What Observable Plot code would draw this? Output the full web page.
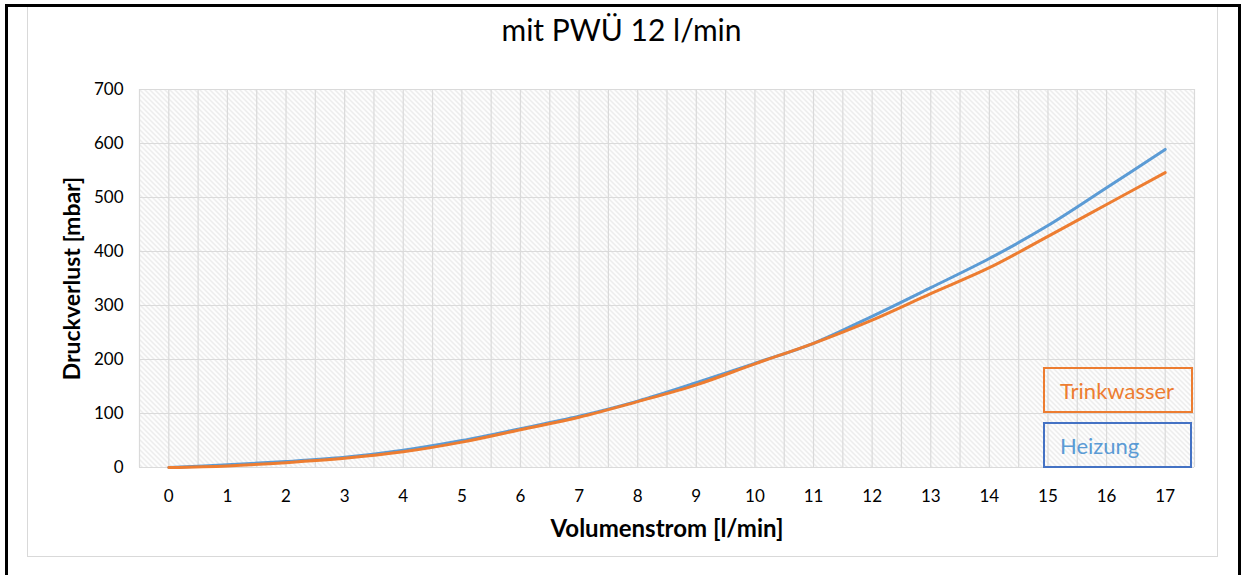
<!DOCTYPE html>
<html>
<head>
<meta charset="utf-8">
<script src="https://cdn.jsdelivr.net/npm/d3@7"></script>
<script src="https://cdn.jsdelivr.net/npm/@observablehq/plot@0.6"></script>
<style>
  html, body { margin: 0; padding: 0; background: #fff; }
  #wrap { position: relative; width: 1243px; height: 575px; overflow: hidden; font-family: Lato, "Open Sans", sans-serif; }
  #outer { position: absolute; left: 5px; top: 4px; width: 1236px; height: 600px; border: 3px solid #000; box-sizing: border-box; }
  #inner { position: absolute; left: 27px; top: 7px; width: 1191px; height: 550px; border: 1px solid #d9d9d9; border-top: none; box-sizing: border-box; }
  #title { position: absolute; left: 0; width: 1243px; top: 11px; text-align: center; font-size: 30px; color: #000; }
  #chart { position: absolute; left: 0; top: 0; }
  .lg { position: absolute; box-sizing: border-box; border: 2px solid; font-size: 22px; padding-left: 15px; display: flex; align-items: center; }
</style>
</head>
<body>
<div id="wrap">
  <div id="outer"></div>
  <div id="inner"></div>
  <div id="chart"></div>
  <div id="title">mit PWÜ 12 l/min</div>
  <div id="legend"></div>
</div>
<script>
const flow = [0, 1, 2, 3, 4, 5, 6, 7, 8, 9, 10, 11, 12, 13, 14, 15, 16, 17];
const heizung = [0, 5, 11, 19, 32, 50, 72, 95, 123, 157, 193, 230, 280, 333, 387, 448, 518, 589];
const trinkwasser = [0, 3, 9, 17, 29, 47, 70, 93, 122, 153, 192, 230, 273, 322, 370, 428, 487, 546];
const seriesNames = ["Heizung", "Trinkwasser"];
const seriesColors = ["#5B9BD5", "#ED7D31"];
const yTicks = [0, 100, 200, 300, 400, 500, 600, 700];
const xGrid = d3.range(-0.5, 17.51, 0.5);

const rows = [];
flow.forEach((f, i) => rows.push({flow: f, value: heizung[i], series: "Heizung"}));
flow.forEach((f, i) => rows.push({flow: f, value: trinkwasser[i], series: "Trinkwasser"}));

const plot = Plot.plot({
  width: 1243,
  height: 575,
  marginLeft: 139,
  marginRight: 49,
  marginTop: 89,
  marginBottom: 108,
  style: {fontFamily: "Lato, 'Open Sans', sans-serif", fontSize: "17px", color: "#000", background: "transparent"},
  x: {domain: [-0.5, 17.5], ticks: flow, tickFormat: d => d, tickSize: 0, tickPadding: 22, label: null},
  y: {domain: [0, 700], ticks: yTicks, tickSize: 0, tickPadding: 16, label: null},
  color: {domain: seriesNames, range: seriesColors},
  marks: [
    Plot.frame({fill: "url(#hatch)", stroke: null}),
    Plot.ruleX(xGrid, {stroke: "#dadada", strokeWidth: 1.2}),
    Plot.ruleY(yTicks, {stroke: "#dadada", strokeWidth: 1.2}),
    Plot.lineY(rows, {x: "flow", y: "value", stroke: "series", strokeWidth: 3, curve: "catmull-rom"}),
    Plot.axisX({ticks: flow, tickSize: 0, tickPadding: 22, fontSize: 17, label: null}),
    Plot.axisY({ticks: yTicks, tickSize: 0, tickPadding: 16, fontSize: 17, label: null}),
    Plot.text(["Volumenstrom [l/min]"], {frameAnchor: "bottom", dy: 69, fontWeight: "bold", fontSize: 24}),
    Plot.text(["Druckverlust [mbar]"], {frameAnchor: "left", textAnchor: "middle", dx: -67, rotate: -90, fontWeight: "bold", fontSize: 23})
  ]
});

const svg = d3.select(plot);
const defs = svg.insert("defs", ":first-child");
const pat = defs.append("pattern").attr("id", "hatch").attr("patternUnits", "userSpaceOnUse")
  .attr("width", 5).attr("height", 5);
pat.append("rect").attr("width", 5).attr("height", 5).attr("fill", "#fff");
pat.append("path").attr("d", "M-1,-1 L6,6 M-1,4 L1,6 M4,-1 L6,1")
  .attr("stroke", "#e2e2e2").attr("stroke-width", 1.1);

document.getElementById("chart").appendChild(plot);

const legend = document.getElementById("legend");
const boxes = [
  {name: "Trinkwasser", text: "#ED7D31", border: "#ED7D31", left: 1043, top: 367, w: 150, h: 46},
  {name: "Heizung", text: "#5B9BD5", border: "#4472C4", left: 1043, top: 422, w: 149, h: 46}
];
boxes.forEach(b => {
  const d = document.createElement("div");
  d.className = "lg";
  d.textContent = b.name;
  d.style.cssText = `left:${b.left}px;top:${b.top}px;width:${b.w}px;height:${b.h}px;color:${b.text};border-color:${b.border};`;
  legend.appendChild(d);
});
</script>
</body>
</html>
